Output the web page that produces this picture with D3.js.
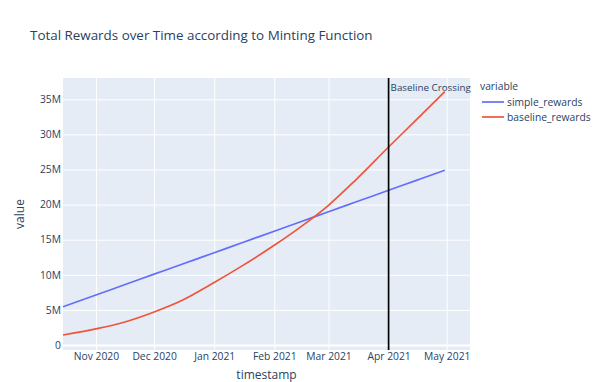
<!DOCTYPE html>
<html>
<head>
<meta charset="utf-8">
<script src="https://d3js.org/d3.v7.min.js"></script>
<style>
  body { margin: 0; background: #fff; }
  text { font-family: 'Open Sans', sans-serif; fill: #2a3f5f; }
</style>
</head>
<body>
<div id="viz"></div>
<script>
// values (millions)
var dates = ["2020-10-15", "2020-11-01", "2020-11-15", "2020-12-01", "2020-12-15",
  "2021-01-01", "2021-01-15", "2021-02-01", "2021-02-15", "2021-03-01",
  "2021-03-15", "2021-04-01", "2021-04-15", "2021-04-30"];
var simpleRewards = [5.45, 7.13, 8.51, 10.09, 11.47, 13.15, 14.53, 16.21, 17.59, 18.98, 20.36, 22.04, 23.42, 24.9];
var baselineRewards = [1.43, 2.3, 3.2, 4.7, 6.3, 8.9, 11.2, 14.2, 16.9, 19.9, 23.5, 28.2, 32.0, 36.1];
var seriesNames = ["simple_rewards", "baseline_rewards"];
var seriesColors = ["#636efa", "#EF553B"];
var monthTicks = ["2020-11-01", "2020-12-01", "2021-01-01", "2021-02-01", "2021-03-01", "2021-04-01", "2021-05-01"];
var yTicks = [0, 5, 10, 15, 20, 25, 30, 35];
var crossingDate = "2021-04-01";

var width = 600, height = 382;
var margin = {left: 63, right: 130, top: 78, bottom: 32};
var parse = d3.timeParse("%Y-%m-%d");

var svg = d3.select("#viz").append("svg")
  .attr("width", width)
  .attr("height", height);

var x = d3.scaleTime()
  .domain([parse("2020-10-15"), parse("2021-05-13")])
  .range([margin.left, width - margin.right]);

var y = d3.scaleLinear()
  .domain([-0.71, 38.03])
  .range([height - margin.bottom, margin.top]);

// plot background
svg.append("rect")
  .attr("x", margin.left)
  .attr("y", margin.top)
  .attr("width", width - margin.right - margin.left)
  .attr("height", height - margin.bottom - margin.top)
  .attr("fill", "#E5ECF6");

// grid
svg.append("g")
  .attr("transform", "translate(0," + margin.top + ")")
  .call(d3.axisBottom(x)
    .tickValues(monthTicks.map(parse))
    .tickSize(height - margin.bottom - margin.top)
    .tickFormat(""))
  .call(function(g) {
    g.select(".domain").remove();
    g.selectAll("line").attr("stroke", "#fff").attr("stroke-width", 1);
  });

svg.append("g")
  .attr("transform", "translate(" + margin.left + ",0)")
  .call(d3.axisRight(y)
    .tickValues(yTicks)
    .tickSize(width - margin.right - margin.left)
    .tickFormat(""))
  .call(function(g) {
    g.select(".domain").remove();
    g.selectAll("line").attr("stroke", "#fff")
      .attr("stroke-width", function(d) { return d === 0 ? 2 : 1; });
  });

// tick labels
svg.append("g")
  .attr("transform", "translate(0," + (height - margin.bottom) + ")")
  .call(d3.axisBottom(x)
    .tickValues(monthTicks.map(parse))
    .tickSize(0)
    .tickPadding(3)
    .tickFormat(d3.timeFormat("%b %Y")))
  .call(function(g) {
    g.select(".domain").remove();
    g.selectAll("text").style("font-size", "10.3px").attr("fill", "#2a3f5f");
  });

svg.append("g")
  .attr("transform", "translate(" + (margin.left - 1) + ",0)")
  .call(d3.axisLeft(y)
    .tickValues(yTicks)
    .tickSize(0)
    .tickPadding(1)
    .tickFormat(function(d) { return d === 0 ? "0" : d + "M"; }))
  .call(function(g) {
    g.select(".domain").remove();
    g.selectAll("text").style("font-size", "10.3px").attr("fill", "#2a3f5f");
  });

// lines
var line = d3.line()
  .x(function(d, i) { return x(parse(dates[i])); })
  .y(function(d) { return y(d); })
  .curve(d3.curveMonotoneX);

[simpleRewards, baselineRewards].forEach(function(values, i) {
  svg.append("path")
    .datum(values)
    .attr("fill", "none")
    .attr("stroke", seriesColors[i])
    .attr("stroke-width", 1.7)
    .attr("d", line);
});

// baseline crossing marker
var cx = x(parse(crossingDate));
svg.append("line")
  .attr("x1", cx).attr("x2", cx)
  .attr("y1", margin.top).attr("y2", height - margin.bottom)
  .attr("stroke", "#000")
  .attr("stroke-width", 1.7);

svg.append("text")
  .attr("x", cx + 2)
  .attr("y", 91)
  .style("font-size", "9.8px")
  .text("Baseline Crossing");

// title
svg.append("text")
  .attr("x", 30)
  .attr("y", 40)
  .style("font-size", "13.4px")
  .text("Total Rewards over Time according to Minting Function");

// axis titles
svg.append("text")
  .attr("x", (margin.left + width - margin.right) / 2)
  .attr("y", 379)
  .attr("text-anchor", "middle")
  .style("font-size", "12px")
  .text("timestamp");

svg.append("text")
  .attr("transform", "translate(24," + ((margin.top + height - margin.bottom) / 2) + ") rotate(-90)")
  .attr("text-anchor", "middle")
  .style("font-size", "12px")
  .text("value");

// legend
var legend = svg.append("g").attr("transform", "translate(480,0)");
legend.append("text")
  .attr("x", 0)
  .attr("y", 90)
  .style("font-size", "10.3px")
  .text("variable");

seriesNames.forEach(function(name, i) {
  var ly = 102 + i * 15;
  legend.append("line")
    .attr("x1", 2).attr("x2", 24)
    .attr("y1", ly).attr("y2", ly)
    .attr("stroke", seriesColors[i])
    .attr("stroke-width", 1.7);
  legend.append("text")
    .attr("x", 27)
    .attr("y", ly + 3.5)
    .style("font-size", "10.3px")
    .text(name);
});
</script>
</body>
</html>
